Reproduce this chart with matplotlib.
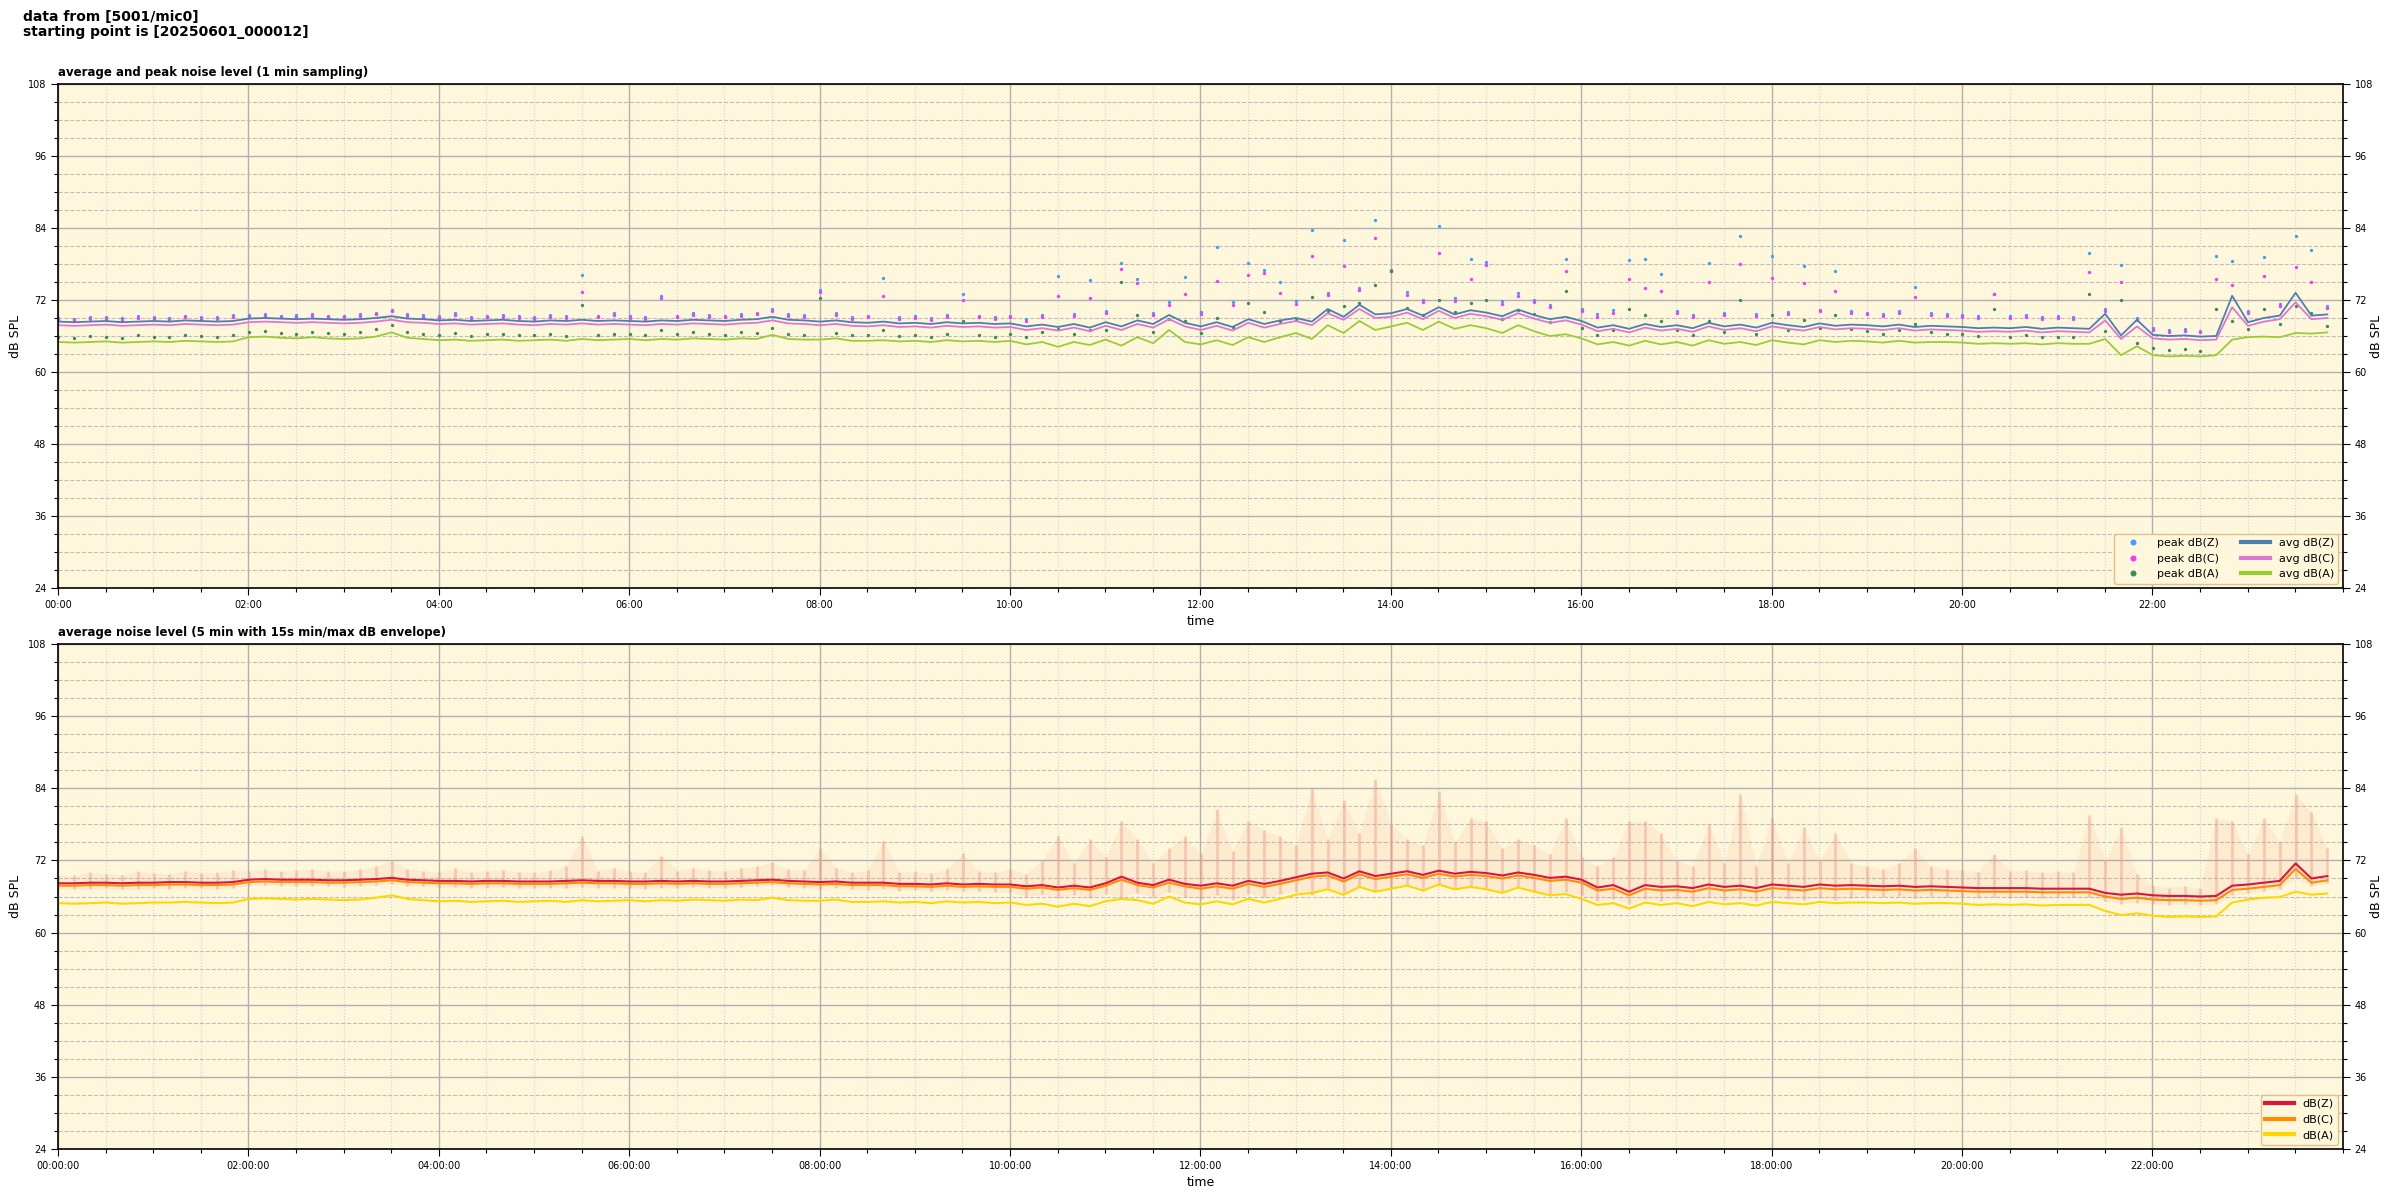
import numpy as np
import matplotlib
matplotlib.use("Agg")
import matplotlib.pyplot as plt
from matplotlib.ticker import MultipleLocator

# ---------------- data (10-minute samples, dB SPL) ----------------
avg_z = [
    68.4, 68.3, 68.4, 68.5, 68.3, 68.4,
    68.5, 68.4, 68.6, 68.5, 68.4, 68.5,
    68.9, 69.0, 68.9, 68.8, 68.9, 68.8,
    68.7, 68.8, 69.0, 69.3, 68.9, 68.8,
    68.6, 68.7, 68.5, 68.6, 68.7, 68.5,
    68.4, 68.6, 68.5, 68.7, 68.5, 68.6,
    68.5, 68.4, 68.6, 68.5, 68.7, 68.6,
    68.5, 68.7, 68.8, 69.2, 68.7, 68.6,
    68.4, 68.6, 68.3, 68.2, 68.4, 68.1,
    68.2, 68.0, 68.3, 68.1, 68.2, 68.0,
    68.1, 67.6, 67.9, 67.5, 68.0, 67.4,
    68.3, 67.6, 68.6, 68.0, 69.5, 68.2,
    67.6, 68.3, 67.5, 68.8, 68.0, 68.6,
    69.0, 68.4, 70.5, 69.2, 71.2, 69.6,
    69.8, 70.5, 69.4, 70.8, 69.6, 70.3,
    69.9, 69.3, 70.4, 69.5, 68.8, 69.2,
    68.5, 67.4, 67.8, 67.2, 68.0, 67.5,
    67.8, 67.3, 68.2, 67.6, 67.9, 67.4,
    68.2, 67.8, 67.5, 68.1, 67.7, 67.9,
    67.8, 67.6, 67.9, 67.5, 67.7, 67.6,
    67.5, 67.3, 67.4, 67.3, 67.5, 67.2,
    67.4, 67.3, 67.2, 69.7, 66.1, 68.7,
    66.2, 66.0, 66.1, 65.9, 66.0, 72.7,
    68.3, 69.0, 69.4, 73.2, 69.4, 69.6,
]
avg_c = [
    67.8, 67.7, 67.8, 67.9, 67.7, 67.8,
    67.9, 67.8, 68.0, 67.9, 67.8, 67.9,
    68.3, 68.4, 68.3, 68.2, 68.3, 68.2,
    68.1, 68.2, 68.4, 68.7, 68.3, 68.2,
    68.0, 68.1, 67.9, 68.0, 68.1, 67.9,
    67.8, 68.0, 67.9, 68.1, 67.9, 68.0,
    67.9, 67.8, 68.0, 67.9, 68.1, 68.0,
    67.9, 68.1, 68.2, 68.6, 68.1, 68.0,
    67.8, 68.0, 67.7, 67.6, 67.8, 67.5,
    67.6, 67.4, 67.7, 67.5, 67.6, 67.4,
    67.5, 67.0, 67.3, 66.9, 67.4, 66.8,
    67.7, 67.0, 68.0, 67.4, 68.8, 67.6,
    67.0, 67.7, 66.9, 68.2, 67.4, 68.0,
    68.5, 67.8, 69.8, 68.7, 70.5, 69.0,
    69.2, 69.9, 68.8, 70.2, 69.0, 69.7,
    69.3, 68.7, 69.8, 68.9, 68.2, 68.6,
    67.9, 66.8, 67.2, 66.6, 67.4, 66.9,
    67.2, 66.7, 67.6, 67.0, 67.3, 66.8,
    67.6, 67.2, 66.9, 67.5, 67.1, 67.3,
    67.2, 67.0, 67.3, 66.9, 67.1, 67.0,
    66.9, 66.7, 66.8, 66.7, 66.9, 66.6,
    66.8, 66.7, 66.6, 68.6, 65.5, 67.6,
    65.6, 65.4, 65.5, 65.3, 65.4, 70.8,
    67.7, 68.4, 68.8, 71.6, 68.8, 69.0,
]
avg_a = [
    65.0, 64.9, 65.0, 65.1, 64.9, 65.0,
    65.1, 65.0, 65.2, 65.1, 65.0, 65.1,
    65.8, 65.9, 65.7, 65.6, 65.8, 65.6,
    65.5, 65.6, 65.9, 66.6, 65.7, 65.5,
    65.3, 65.4, 65.2, 65.3, 65.4, 65.2,
    65.3, 65.4, 65.2, 65.5, 65.3, 65.4,
    65.5, 65.3, 65.5, 65.4, 65.6, 65.5,
    65.4, 65.6, 65.5, 66.2, 65.5, 65.4,
    65.4, 65.6, 65.2, 65.2, 65.3, 65.1,
    65.2, 65.0, 65.3, 65.1, 65.2, 65.0,
    65.2, 64.6, 65.0, 64.2, 65.0, 64.5,
    65.4, 64.4, 65.8, 64.8, 67.0, 65.0,
    64.6, 65.3, 64.5, 65.8, 65.0, 65.8,
    66.5, 65.5, 67.8, 66.5, 68.5, 67.0,
    67.6, 68.2, 67.0, 68.4, 67.2, 67.8,
    67.3, 66.5, 67.8, 66.8, 66.0, 66.3,
    65.6, 64.6, 65.0, 64.4, 65.2, 64.6,
    65.0, 64.4, 65.3, 64.7, 65.0, 64.5,
    65.3, 64.9, 64.6, 65.3, 65.0, 65.2,
    65.1, 64.9, 65.2, 64.9, 65.0, 65.0,
    64.9, 64.7, 64.8, 64.7, 64.8, 64.6,
    64.8, 64.7, 64.7, 65.5, 62.8, 64.3,
    62.8, 62.6, 62.7, 62.6, 62.8, 65.4,
    65.8, 65.9, 65.8, 66.5, 66.4, 66.6,
]
peak_z = [
    69.0, 68.9, 69.2, 69.1, 69.0, 69.3,
    69.2, 69.0, 69.4, 69.1, 69.2, 69.5,
    69.5, 69.6, 69.4, 69.5, 69.7, 69.4,
    69.4, 69.6, 69.9, 70.4, 69.6, 69.5,
    69.3, 69.8, 69.2, 69.4, 69.5, 69.3,
    69.2, 69.5, 69.3, 76.2, 69.4, 69.8,
    69.3, 69.2, 72.7, 69.4, 69.8, 69.5,
    69.4, 69.7, 69.9, 70.5, 69.6, 69.5,
    73.7, 69.8, 69.2, 69.4, 75.6, 69.1,
    69.3, 69.0, 69.5, 73.0, 69.4, 69.1,
    69.4, 68.8, 69.5, 76.0, 69.6, 75.3,
    70.2, 78.2, 75.5, 69.8, 71.6, 75.8,
    70.0, 80.8, 71.6, 78.2, 77.0, 75.0,
    71.8, 83.7, 73.2, 82.0, 74.0, 85.4,
    77.0, 73.3, 72.0, 84.3, 72.3, 78.8,
    78.4, 71.8, 73.1, 72.0, 71.2, 78.9,
    70.5, 69.6, 70.3, 78.7, 78.9, 76.4,
    70.1, 69.5, 78.1, 69.8, 82.7, 69.6,
    79.3, 70.0, 77.7, 70.4, 76.8, 70.1,
    69.9, 69.6, 70.1, 74.1, 69.8, 69.6,
    69.5, 69.3, 73.0, 69.3, 69.5, 69.2,
    69.3, 69.2, 79.9, 70.5, 77.8, 69.0,
    67.3, 67.0, 67.2, 66.9, 79.4, 78.5,
    70.2, 79.2, 71.3, 82.7, 80.3, 71.0,
]
peak_c = [
    68.7, 68.6, 68.9, 68.8, 68.7, 69.0,
    68.9, 68.7, 69.1, 68.8, 68.9, 69.2,
    69.2, 69.3, 69.1, 69.2, 69.4, 69.1,
    69.1, 69.3, 69.6, 70.1, 69.3, 69.2,
    69.0, 69.5, 68.9, 69.1, 69.2, 69.0,
    68.9, 69.2, 69.0, 73.4, 69.1, 69.5,
    69.0, 68.9, 72.4, 69.1, 69.5, 69.2,
    69.1, 69.4, 69.6, 70.2, 69.3, 69.2,
    73.3, 69.5, 68.9, 69.1, 72.6, 68.8,
    69.0, 68.7, 69.2, 72.0, 69.1, 68.8,
    69.1, 68.5, 69.2, 72.6, 69.3, 72.3,
    69.9, 77.1, 74.8, 69.5, 71.2, 73.0,
    69.6, 75.1, 71.2, 76.2, 76.5, 73.2,
    71.4, 79.4, 72.8, 77.6, 73.6, 82.4,
    76.8, 72.9, 71.6, 79.8, 71.9, 75.5,
    77.8, 71.4, 72.7, 71.6, 70.8, 76.9,
    70.1, 69.2, 69.9, 75.5, 74.0, 73.5,
    69.8, 69.2, 75.0, 69.5, 78.0, 69.3,
    75.6, 69.7, 74.9, 70.1, 73.5, 69.8,
    69.6, 69.3, 69.8, 72.5, 69.5, 69.3,
    69.2, 69.0, 73.0, 69.0, 69.2, 68.9,
    69.0, 68.9, 76.7, 70.2, 75.0, 68.7,
    67.0, 66.7, 66.9, 66.6, 75.5, 74.5,
    69.9, 76.0, 71.0, 77.5, 75.0, 70.7,
]
peak_a = [
    65.9, 65.7, 66.0, 65.8, 65.6, 66.1,
    65.9, 65.8, 66.2, 66.0, 65.8, 66.1,
    66.6, 66.9, 66.5, 66.4, 66.7, 66.5,
    66.3, 66.6, 67.2, 67.8, 66.7, 66.3,
    66.2, 66.5, 66.0, 66.3, 66.4, 66.1,
    66.1, 66.3, 66.0, 71.2, 66.2, 66.4,
    66.4, 66.1, 67.0, 66.3, 66.6, 66.4,
    66.2, 66.6, 66.5, 67.4, 66.4, 66.2,
    72.4, 66.5, 66.1, 66.2, 67.0, 66.0,
    66.2, 65.9, 66.4, 68.5, 66.2, 65.9,
    66.3, 65.8, 66.6, 67.2, 66.4, 67.0,
    67.0, 75.0, 69.5, 66.6, 68.8, 68.5,
    66.5, 69.0, 67.5, 71.5, 70.0, 68.5,
    68.6, 72.5, 70.2, 71.0, 71.5, 74.5,
    76.8, 70.6, 69.5, 72.0, 70.0, 71.5,
    72.0, 68.8, 70.4, 69.6, 68.4, 73.5,
    67.4, 66.2, 67.0, 70.5, 69.5, 68.5,
    67.0, 66.2, 68.5, 66.6, 72.0, 66.3,
    69.5, 67.0, 68.6, 67.3, 69.5, 67.1,
    66.8, 66.4, 67.0, 68.0, 66.6, 66.3,
    66.3, 66.0, 70.5, 65.9, 66.2, 65.8,
    65.9, 65.8, 73.0, 66.9, 72.0, 64.8,
    64.0, 63.6, 63.9, 63.5, 70.5, 68.5,
    67.2, 70.5, 68.0, 71.0, 69.8, 67.6,
]
# 5-min panel (shown at 10-minute resolution)
lvl_z = [
    68.2, 68.2, 68.3, 68.3, 68.2, 68.3,
    68.3, 68.4, 68.4, 68.3, 68.3, 68.4,
    68.8, 68.9, 68.8, 68.8, 68.8, 68.7,
    68.7, 68.8, 68.9, 69.1, 68.8, 68.7,
    68.6, 68.6, 68.5, 68.6, 68.6, 68.5,
    68.5, 68.5, 68.6, 68.7, 68.6, 68.6,
    68.5, 68.5, 68.6, 68.5, 68.6, 68.5,
    68.5, 68.6, 68.7, 68.8, 68.6, 68.5,
    68.4, 68.5, 68.3, 68.3, 68.3, 68.1,
    68.1, 68.0, 68.2, 68.0, 68.1, 68.0,
    68.0, 67.7, 67.9, 67.5, 67.8, 67.5,
    68.2, 69.3, 68.3, 67.9, 68.8, 68.1,
    67.8, 68.2, 67.8, 68.6, 68.1, 68.6,
    69.2, 69.8, 70.0, 69.0, 70.2, 69.4,
    69.8, 70.2, 69.6, 70.3, 69.8, 70.1,
    69.9, 69.5, 70.0, 69.6, 69.1, 69.3,
    68.8, 67.5, 67.9, 66.8, 67.9, 67.6,
    67.7, 67.4, 68.0, 67.6, 67.8, 67.4,
    68.0, 67.8, 67.6, 68.0, 67.8, 67.9,
    67.8, 67.7, 67.8, 67.6, 67.7, 67.6,
    67.5, 67.4, 67.4, 67.4, 67.4, 67.3,
    67.3, 67.3, 67.3, 66.6, 66.3, 66.5,
    66.2, 66.1, 66.1, 66.0, 66.1, 67.8,
    68.0, 68.3, 68.6, 71.5, 69.0, 69.4,
]
lvl_c = [
    67.8, 67.8, 67.9, 67.9, 67.8, 67.9,
    67.9, 68.0, 68.0, 67.9, 67.9, 68.0,
    68.4, 68.5, 68.4, 68.4, 68.4, 68.3,
    68.3, 68.4, 68.5, 68.7, 68.4, 68.3,
    68.2, 68.2, 68.1, 68.2, 68.2, 68.1,
    68.1, 68.1, 68.2, 68.3, 68.2, 68.2,
    68.1, 68.1, 68.2, 68.1, 68.2, 68.1,
    68.1, 68.2, 68.3, 68.4, 68.2, 68.1,
    68.0, 68.1, 67.9, 67.9, 67.9, 67.7,
    67.7, 67.6, 67.8, 67.6, 67.7, 67.6,
    67.6, 67.3, 67.5, 67.1, 67.4, 67.1,
    67.8, 68.8, 67.9, 67.5, 68.3, 67.7,
    67.3, 67.7, 67.3, 68.1, 67.6, 68.1,
    68.7, 69.3, 69.5, 68.5, 69.7, 68.9,
    69.3, 69.7, 69.1, 69.8, 69.3, 69.6,
    69.4, 69.0, 69.5, 69.1, 68.6, 68.8,
    68.3, 67.0, 67.3, 66.2, 67.3, 67.0,
    67.1, 66.8, 67.4, 67.0, 67.2, 66.8,
    67.4, 67.2, 67.0, 67.4, 67.2, 67.3,
    67.2, 67.1, 67.2, 67.0, 67.1, 67.0,
    66.9, 66.8, 66.8, 66.8, 66.8, 66.7,
    66.7, 66.7, 66.7, 66.0, 65.6, 65.8,
    65.5, 65.4, 65.4, 65.3, 65.4, 67.1,
    67.3, 67.6, 67.9, 70.6, 68.3, 68.7,
]
lvl_a = [
    64.9, 64.8, 64.9, 65.0, 64.8, 64.9,
    65.0, 65.0, 65.1, 65.0, 64.9, 65.0,
    65.6, 65.7, 65.6, 65.5, 65.6, 65.5,
    65.4, 65.5, 65.8, 66.2, 65.6, 65.4,
    65.2, 65.3, 65.1, 65.2, 65.3, 65.1,
    65.2, 65.3, 65.1, 65.4, 65.2, 65.3,
    65.4, 65.2, 65.4, 65.3, 65.5, 65.4,
    65.3, 65.5, 65.4, 65.8, 65.4, 65.3,
    65.3, 65.5, 65.1, 65.1, 65.2, 65.0,
    65.1, 64.9, 65.2, 65.0, 65.1, 64.9,
    65.0, 64.6, 64.8, 64.3, 64.8, 64.4,
    65.2, 65.6, 65.4, 64.8, 66.0, 65.0,
    64.7, 65.2, 64.7, 65.6, 65.0, 65.6,
    66.3, 66.6, 67.2, 66.3, 67.6, 66.8,
    67.3, 67.8, 67.0, 68.0, 67.2, 67.6,
    67.2, 66.6, 67.5, 66.8, 66.2, 66.4,
    65.6, 64.6, 64.9, 64.0, 65.0, 64.6,
    64.9, 64.4, 65.1, 64.7, 64.9, 64.5,
    65.1, 64.9, 64.7, 65.1, 64.9, 65.0,
    65.0, 64.9, 65.0, 64.8, 64.9, 64.9,
    64.8, 64.6, 64.7, 64.6, 64.7, 64.5,
    64.6, 64.6, 64.6, 63.6, 62.9, 63.2,
    62.8, 62.6, 62.7, 62.6, 62.7, 65.0,
    65.5, 65.8, 65.9, 66.8, 66.3, 66.5,
]
env_hi = [
    69.6, 69.5, 70.0, 69.8, 69.6, 70.2,
    69.9, 69.7, 70.3, 69.9, 70.0, 70.4,
    70.3, 70.5, 70.2, 70.4, 70.6, 70.2,
    70.2, 70.5, 71.0, 72.0, 70.5, 70.3,
    70.1, 70.8, 70.0, 70.3, 70.4, 70.1,
    70.0, 70.4, 71.0, 76.0, 70.3, 70.8,
    70.2, 70.0, 72.8, 70.3, 70.8, 70.4,
    70.3, 70.8, 71.0, 71.8, 70.5, 70.4,
    74.0, 70.8, 70.0, 70.4, 75.2, 70.0,
    70.2, 69.9, 70.5, 73.2, 70.3, 70.0,
    70.6, 69.8, 72.0, 76.0, 71.5, 75.5,
    72.5, 78.5, 75.5, 71.5, 74.0, 76.0,
    73.0, 80.5, 73.5, 78.5, 77.0, 76.0,
    74.5, 84.0, 75.5, 82.0, 76.5, 85.5,
    78.0, 75.5, 74.5, 83.5, 75.0, 79.0,
    78.5, 74.0, 75.5, 74.5, 73.0, 79.0,
    72.5, 71.0, 72.5, 78.5, 78.5, 76.5,
    72.0, 71.0, 78.0, 71.5, 83.0, 71.0,
    79.0, 71.5, 77.5, 72.0, 76.5, 71.5,
    71.0, 70.5, 71.5, 74.0, 71.0, 70.5,
    70.4, 70.1, 73.0, 70.2, 70.4, 70.0,
    70.2, 70.0, 79.5, 72.0, 77.5, 69.8,
    67.8, 67.5, 67.8, 67.4, 79.0, 78.5,
    73.0, 79.0, 75.0, 83.0, 80.0, 74.0,
]
env_lo = [
    67.3, 67.2, 67.3, 67.4, 67.2, 67.3,
    67.4, 67.3, 67.5, 67.4, 67.3, 67.4,
    67.8, 67.9, 67.8, 67.7, 67.8, 67.7,
    67.6, 67.7, 67.9, 68.1, 67.8, 67.7,
    67.5, 67.6, 67.4, 67.5, 67.6, 67.4,
    67.4, 67.5, 67.4, 67.6, 67.4, 67.5,
    67.4, 67.3, 67.5, 67.4, 67.6, 67.5,
    67.4, 67.6, 67.7, 67.9, 67.6, 67.5,
    67.3, 67.5, 67.2, 67.1, 67.3, 67.0,
    67.1, 66.9, 67.1, 66.9, 67.0, 66.8,
    66.7, 66.0, 66.4, 65.8, 66.3, 65.8,
    66.4, 66.0, 66.6, 65.9, 66.8, 66.0,
    65.6, 66.2, 65.5, 66.5, 65.9, 66.4,
    66.8, 66.2, 67.5, 66.6, 67.8, 67.0,
    67.4, 67.8, 67.0, 67.9, 67.2, 67.6,
    67.3, 66.8, 67.6, 66.9, 66.5, 66.8,
    66.2, 65.2, 65.6, 64.8, 65.6, 65.2,
    65.6, 65.2, 65.8, 65.4, 65.6, 65.2,
    66.0, 65.6, 65.4, 65.8, 65.5, 65.7,
    66.0, 65.9, 66.1, 65.8, 66.0, 65.9,
    66.0, 65.8, 65.9, 65.8, 65.9, 65.7,
    66.0, 65.9, 65.9, 65.2, 64.8, 65.0,
    64.8, 64.6, 64.7, 64.6, 64.7, 66.2,
    66.6, 67.0, 67.3, 69.0, 67.8, 68.2,
]

hour_ticks = list(range(0, 24, 2))
top_tick_labels = ["%02d:00" % h for h in hour_ticks]
bottom_tick_labels = ["%02d:00:00" % h for h in hour_ticks]
y_ticks = [24, 36, 48, 60, 72, 84, 96, 108]

title_top = "average and peak noise level (1 min sampling)"
title_bottom = "average noise level (5 min with 15s min/max dB envelope)"
header = "data from [5001/mic0]\nstarting point is [20250601_000012]"

# ---------------- plotting ----------------
t = np.arange(len(avg_z)) / 6.0 + 12.0 / 3600.0  # hours since midnight

BG = "#fff7dc"
plt.rcParams["font.family"] = ["DejaVu Sans"]

fig = plt.figure(figsize=(24, 12), dpi=100)
fig.text(0.0096, 0.992, header, fontsize=10, fontweight="bold", va="top", ha="left",
         linespacing=1.1)

ax1 = fig.add_axes([0.0242, 0.51, 0.952, 0.42])
ax2 = fig.add_axes([0.0242, 0.0425, 0.952, 0.4208])


def style_axis(ax, labels):
    ax.set_facecolor(BG)
    ax.set_xlim(0, 24)
    ax.set_ylim(24, 108)
    ax.set_xticks(hour_ticks)
    ax.set_xticklabels(labels)
    ax.xaxis.set_minor_locator(MultipleLocator(0.5))
    ax.set_yticks(y_ticks)
    ax.yaxis.set_minor_locator(MultipleLocator(3))
    ax.grid(True, which="major", axis="both", color="#b0b0b0", lw=1.0, ls="-")
    ax.grid(True, which="minor", axis="y", color="#bdbdbd", lw=0.8, ls="--")
    ax.grid(True, which="minor", axis="x", color="#d2d2d2", lw=0.8, ls=":")
    ax.set_axisbelow(True)
    ax.tick_params(which="major", labelsize=7, length=5, width=0.8, direction="out")
    ax.tick_params(which="minor", length=3, width=0.8, direction="out")
    ax.tick_params(axis="y", which="both", right=True, labelright=True)
    ax.set_xlabel("time", fontsize=9)
    ax.set_ylabel("dB SPL", fontsize=9)
    for s in ax.spines.values():
        s.set_linewidth(1.2)
    ax.text(1.012, 0.5, "dB SPL", transform=ax.transAxes, rotation=90,
            fontsize=9, va="center", ha="left")


style_axis(ax1, top_tick_labels)
style_axis(ax2, bottom_tick_labels)

# top panel
ax1.set_title(title_top, loc="left", fontsize=8.5, fontweight="bold", pad=6)
ms = 2.4
h_pz, = ax1.plot(t, peak_z, ls="none", marker="o", ms=ms, mew=0, color="#3aa0ff", label="peak dB(Z)")
h_pc, = ax1.plot(t, peak_c, ls="none", marker="o", ms=ms, mew=0, color="#ff33ff", label="peak dB(C)")
h_pa, = ax1.plot(t, peak_a, ls="none", marker="o", ms=ms, mew=0, color="#3a8a5a", label="peak dB(A)")
h_az, = ax1.plot(t, avg_z, color="#4a80b0", lw=1.3, label="avg dB(Z)")
h_ac, = ax1.plot(t, avg_c, color="#dd77d4", lw=1.3, label="avg dB(C)")
h_aa, = ax1.plot(t, avg_a, color="#9acd32", lw=1.3, label="avg dB(A)")
leg1 = ax1.legend(handles=[h_pz, h_pc, h_pa, h_az, h_ac, h_aa], ncol=2, loc="lower right",
                  fontsize=8, facecolor=BG, edgecolor="#e0c090", framealpha=1,
                  markerscale=1.8, handlelength=2.6, columnspacing=2.0,
                  borderaxespad=0.4)
for h in leg1.legend_handles[3:]:
    h.set_linewidth(3.0)

# bottom panel
ax2.set_title(title_bottom, loc="left", fontsize=8.5, fontweight="bold", pad=6)
ax2.fill_between(t, env_lo, env_hi, color="#f08a70", alpha=0.10, lw=0)
ax2.vlines(t, env_lo, env_hi, colors="#f09a88", lw=2.0, alpha=0.45)
b_z, = ax2.plot(t, lvl_z, color="#dc143c", lw=1.5, label="dB(Z)")
b_c, = ax2.plot(t, lvl_c, color="#ff8c00", lw=1.5, label="dB(C)")
b_a, = ax2.plot(t, lvl_a, color="#ffd700", lw=1.5, label="dB(A)")
leg2 = ax2.legend(handles=[b_z, b_c, b_a], loc="lower right", fontsize=8,
                  facecolor=BG, edgecolor="#e0c090", framealpha=1,
                  handlelength=2.6, borderaxespad=0.4)
for h in leg2.legend_handles:
    h.set_linewidth(3.0)

fig.savefig("out.png", dpi=100)
